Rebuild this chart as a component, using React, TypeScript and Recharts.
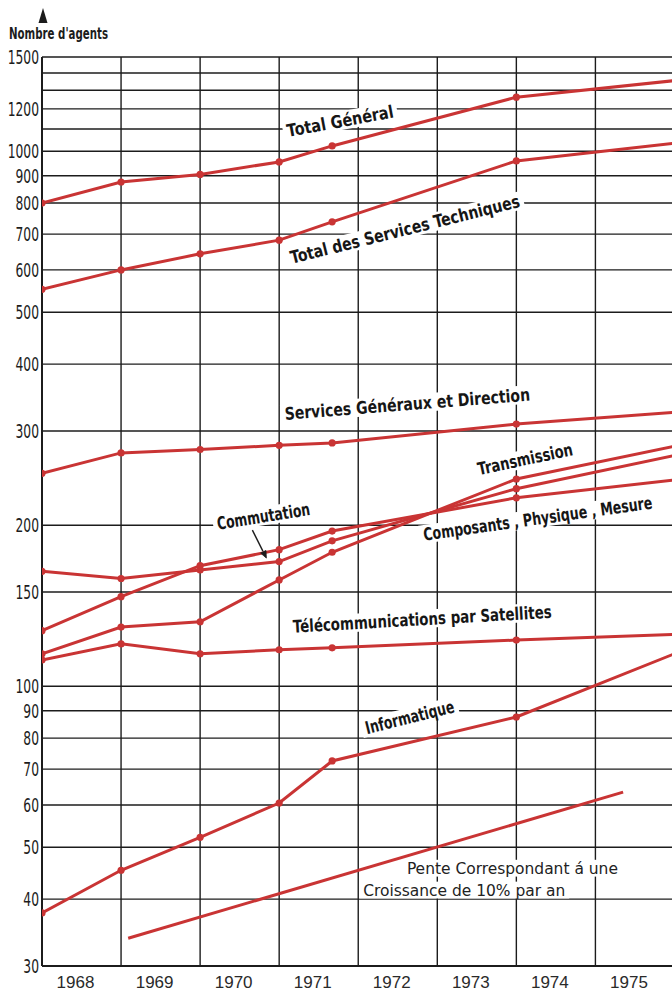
import React from 'react';
import { LineChart, Line, XAxis, YAxis, CartesianGrid, ReferenceDot } from 'recharts';

// ---- data ----
const POINT_YEARS = [1968, 1969, 1970, 1971, 1971.67, 1974, 1976];
const TOTAL_GENERAL = [800, 876, 905, 955, 1023, 1262, 1355];
const TOTAL_TECHNIQUES = [552, 600, 643, 682, 738, 959, 1035];
const SERVICES_GENERAUX = [250, 273, 277, 282, 285, 309, 325];
const COMMUTATION = [164, 159, 165, 171, 187, 234, 270];
const COMPOSANTS = [127, 147, 168, 180, 195, 225, 243];
const TRANSMISSION = [115, 129, 132, 158, 178, 244, 281];
const TELECOM_SAT = [112, 120, 115, 117, 118, 122, 125];
const INFORMATIQUE = [37.7, 45.3, 52.2, 60.5, 72.5, 87.6, 115];
const PENTE_YEARS = [1969.09, 1975.35];
const PENTE_VALUES = [33.8, 63.4];

const Y_TICKS = [30, 40, 50, 60, 70, 80, 90, 100, 150, 200, 300, 400, 500, 600, 700, 800, 900, 1000, 1200, 1500];
const Y_GRID = [30, 40, 50, 60, 70, 80, 90, 100, 150, 200, 300, 400, 500, 600, 700, 800, 900, 1000, 1100, 1200, 1300, 1400, 1500];
const YEAR_LINES = [1968, 1969, 1970, 1971, 1972, 1973, 1974, 1975, 1976];
const YEAR_LABELS = ['1968', '1969', '1970', '1971', '1972', '1973', '1974', '1975'];
const Y_TITLE = "Nombre d'agents";

const ANNOTATIONS = [
  { text: 'Total Général', x: 1971.77, y: 1139, angle: -10.5, len: 108, size: 17.5, bold: true },
  { text: 'Total des Services Techniques', x: 1972.59, y: 715, angle: -14, len: 236, size: 17.5, bold: true },
  { text: 'Services Généraux et Direction', x: 1972.62, y: 337, angle: -4.5, len: 246, size: 17.5, bold: true },
  { text: 'Transmission', x: 1974.11, y: 266, angle: -12, len: 97, size: 17.5, bold: true },
  { text: 'Composants , Physique , Mesure', x: 1974.27, y: 206, angle: -8, len: 231, size: 17.5, bold: true },
  { text: 'Commutation', x: 1970.8, y: 208, angle: -9, len: 94, size: 17.5, bold: true, arrow: true },
  { text: 'Télécommunications par Satellites', x: 1972.81, y: 133.6, angle: -3.3, len: 259, size: 17.5, bold: true },
  { text: 'Informatique', x: 1972.65, y: 87.6, angle: -14, len: 91, size: 17.5, bold: true },
  { text: 'Pente Correspondant á une', x: 1973.95, y: 45.7, angle: 0, len: 211, size: 16, bold: false },
  { text: 'Croissance de 10% par an', x: 1973.34, y: 41.6, angle: 0, len: 202, size: 16, bold: false },
];

const RED = '#c93434';
const INK = '#1c1c1c';
const COND = "'DejaVu Sans Condensed', 'DejaVu Sans', sans-serif";

const toRows = (xs: number[], vs: number[]) => xs.map((x, i) => ({ x, v: vs[i] }));

const SERIES = [
  { name: 'Total Général', values: TOTAL_GENERAL },
  { name: 'Total des Services Techniques', values: TOTAL_TECHNIQUES },
  { name: 'Services Généraux et Direction', values: SERVICES_GENERAUX },
  { name: 'Commutation', values: COMMUTATION },
  { name: 'Composants, Physique, Mesure', values: COMPOSANTS },
  { name: 'Transmission', values: TRANSMISSION },
  { name: 'Télécommunications par Satellites', values: TELECOM_SAT },
  { name: 'Informatique', values: INFORMATIQUE },
];

const lastIdx = POINT_YEARS.length - 1;
const renderDot = (props: any) => {
  const { cx, cy, index } = props;
  if (index === lastIdx || cx == null || cy == null) return <g key={`e${index}`} />;
  return <circle key={`d${index}`} cx={cx} cy={cy} r={3.6} fill={RED} />;
};

const YTick = (props: any) => {
  const { x, y, payload } = props;
  return (
    <text
      transform={`translate(${x},${y}) scale(0.72,1)`}
      textAnchor="end"
      dy="0.36em"
      fontFamily={COND}
      fontSize={19}
      fill={INK}
    >
      {payload.value}
    </text>
  );
};

const XTick = (props: any) => {
  const { x, y, payload } = props;
  const idx = Math.floor(payload.value) - YEAR_LINES[0];
  return (
    <text x={x - 6} y={y + 22} textAnchor="middle" fontFamily="'Liberation Sans', Arial, sans-serif" fontSize={17} fill="#2a2a2a">
      {YEAR_LABELS[idx]}
    </text>
  );
};

const AnnShape = (a: any) => (props: any) => {
  const { cx, cy } = props;
  if (cx == null || cy == null) return <g />;
  const h = a.size * 1.05;
  return (
    <g>
      <g transform={`translate(${cx},${cy}) rotate(${a.angle})`}>
        <rect x={-a.len / 2 - 4} y={-h / 2} width={a.len + 8} height={h} fill="#fff" />
        <text
          x={0}
          y={0}
          dy="0.36em"
          textAnchor="middle"
          fontFamily={COND}
          fontWeight={a.bold ? 'bold' : 'normal'}
          fontSize={a.size}
          fill={a.bold ? '#161616' : '#222'}
          textLength={a.len}
          lengthAdjust="spacingAndGlyphs"
        >
          {a.text}
        </text>
      </g>
      {a.arrow ? (
        <g transform={`translate(${cx},${cy})`}>
          <line x1={-11} y1={14} x2={-0.5} y2={35} stroke={INK} strokeWidth={1.4} />
          <polygon points="3,42 -2.8,37 2.6,34.4" fill={INK} stroke={INK} strokeWidth={0.8} />
        </g>
      ) : null}
    </g>
  );
};

export default function App() {
  return (
    <div style={{ position: 'absolute', left: 0, top: 0, width: 672, height: 992, overflow: 'hidden', background: '#fff' }}>
      <LineChart width={714} height={992} margin={{ top: 57, right: 0, bottom: 0, left: 0 }}>
        <CartesianGrid
          horizontalValues={Y_GRID}
          verticalValues={YEAR_LINES}
          stroke={INK}
          strokeWidth={1.4}
        />
        <XAxis
          type="number"
          dataKey="x"
          domain={[1968, 1976.5]}
          allowDataOverflow
          ticks={YEAR_LINES.slice(0, -1).map((y) => y + 0.5)}
          tick={<XTick />}
          tickLine={false}
          tickSize={0}
          tickMargin={0}
          height={26}
          axisLine={{ stroke: INK, strokeWidth: 2 }}
          interval={0}
        />
        <YAxis
          type="number"
          scale="log"
          domain={[30, 1500]}
          allowDataOverflow
          ticks={Y_TICKS}
          tick={<YTick />}
          tickLine={false}
          tickSize={0}
          tickMargin={3}
          width={42}
          axisLine={{ stroke: INK, strokeWidth: 2 }}
          interval={0}
        />
        {ANNOTATIONS.map((a) => (
          <ReferenceDot key={a.text} x={a.x} y={a.y} r={1} ifOverflow="visible" shape={AnnShape(a)} />
        ))}
        {SERIES.map((s) => (
          <Line
            key={s.name}
            name={s.name}
            data={toRows(POINT_YEARS, s.values)}
            dataKey="v"
            type="linear"
            stroke={RED}
            strokeWidth={3}
            dot={renderDot}
            activeDot={false}
            isAnimationActive={false}
          />
        ))}
        <Line
          name="Pente 10% par an"
          data={toRows(PENTE_YEARS, PENTE_VALUES)}
          dataKey="v"
          type="linear"
          stroke={RED}
          strokeWidth={3}
          dot={false}
          activeDot={false}
          isAnimationActive={false}
        />
      </LineChart>
      <svg width={160} height={50} style={{ position: 'absolute', left: 0, top: 0, pointerEvents: 'none' }}>
        <polygon points="43,8 38.5,23 47.5,23" fill={INK} />
        <text x={9} y={39} fontFamily={COND} fontWeight="bold" fontSize={15.5} fill={INK} textLength={99} lengthAdjust="spacingAndGlyphs">
          {Y_TITLE}
        </text>
      </svg>
    </div>
  );
}
